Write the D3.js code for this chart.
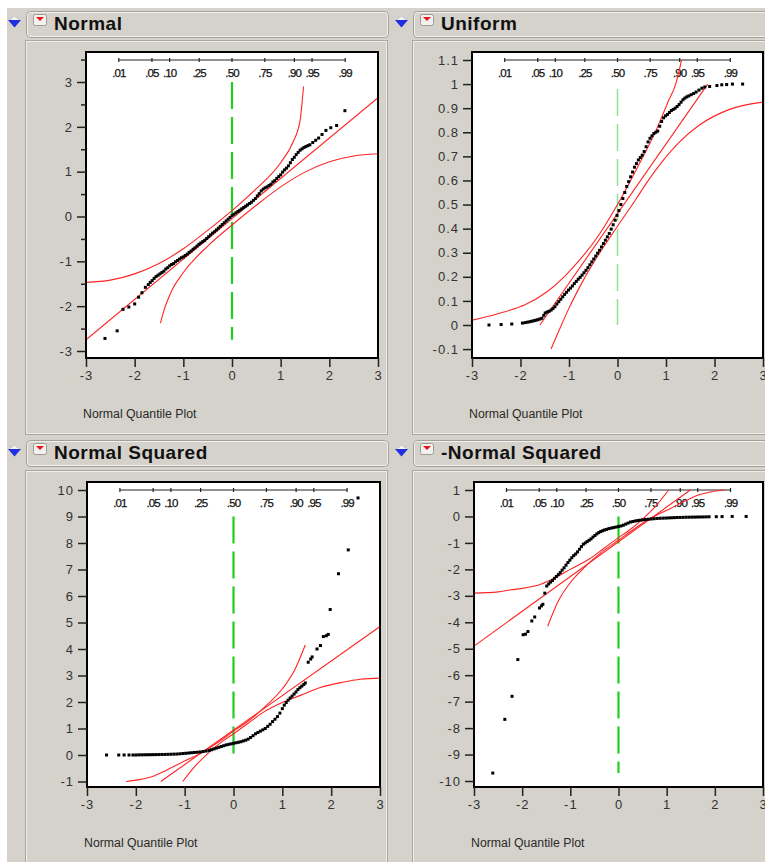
<!DOCTYPE html>
<html>
<head>
<meta charset="utf-8">
<script src="https://cdn.jsdelivr.net/npm/d3@7"></script>
<style>
  body { margin: 0; background: #fff; }
  text { font-family: "Liberation Sans", Arial, sans-serif; }
</style>
</head>
<body>
<svg id="chart"></svg>
<script>
// Normal quantile plots of four distributions (JMP style)

// shared axis values
const xTicks = [-3, -2, -1, 0, 1, 2, 3];
const probLabels = [".01", ".05", ".10", ".25", ".50", ".75", ".90", ".95", ".99"];
const probQuantiles = [-2.326, -1.645, -1.282, -0.674, 0, 0.674, 1.282, 1.645, 2.326];

// ---- Normal ----
const normalTicks = [-3, -2, -1, 0, 1, 2, 3];
const normalMinor = [-2.5, -1.5, -0.5, 0.5, 1.5, 2.5, 3.5];
const normalPts = [[-2.61,-2.72],[-2.36,-2.55],[-2.24,-2.07],[-2.12,-2.02],[-2.0,-1.95],[-1.92,-1.8],[-1.85,-1.7],
  [-1.78,-1.58],[-1.72,-1.52],[-1.68,-1.47],[-1.64,-1.43],[-1.6,-1.38],[-1.56,-1.34],[-1.52,-1.31],[-1.48,-1.28],
  [-1.44,-1.25],[-1.4,-1.22],[-1.36,-1.17],[-1.32,-1.14],[-1.28,-1.1],[-1.24,-1.07],[-1.2,-1.05],[-1.16,-1.01],
  [-1.12,-0.98],[-1.08,-0.95],[-1.04,-0.92],[-1.0,-0.9],[-0.96,-0.87],[-0.92,-0.84],[-0.88,-0.8],[-0.84,-0.77],
  [-0.8,-0.73],[-0.76,-0.7],[-0.72,-0.66],[-0.68,-0.62],[-0.64,-0.59],[-0.6,-0.56],[-0.56,-0.53],[-0.52,-0.49],
  [-0.48,-0.45],[-0.44,-0.41],[-0.4,-0.37],[-0.36,-0.34],[-0.32,-0.3],[-0.28,-0.26],[-0.24,-0.22],[-0.2,-0.18],
  [-0.16,-0.14],[-0.12,-0.1],[-0.08,-0.06],[-0.04,-0.02],[0,0.02],[0.04,0.05],[0.08,0.08],[0.12,0.11],
  [0.16,0.14],[0.2,0.17],[0.24,0.2],[0.28,0.23],[0.32,0.26],[0.36,0.29],[0.4,0.32],[0.44,0.36],[0.48,0.4],
  [0.52,0.46],[0.56,0.51],[0.6,0.57],[0.64,0.61],[0.68,0.64],[0.72,0.66],[0.76,0.69],[0.8,0.72],[0.84,0.77],
  [0.88,0.8],[0.92,0.85],[0.96,0.89],[1.0,0.93],[1.04,0.99],[1.08,1.04],[1.12,1.08],[1.16,1.13],[1.2,1.2],
  [1.24,1.27],[1.28,1.32],[1.32,1.38],[1.36,1.43],[1.4,1.48],[1.44,1.51],[1.48,1.54],[1.52,1.56],[1.56,1.58],
  [1.6,1.6],[1.66,1.65],[1.72,1.7],[1.78,1.75],[1.85,1.83],[1.93,1.92],[2.03,1.98],[2.15,2.03],[2.32,2.36]];
const normalFit = [[-3,-2.75],[3,2.65]];
const normalUpper = [[-3,-1.47],[-2.5,-1.42],[-2,-1.28],[-1.5,-1.05],[-1,-0.72],[-0.5,-0.31],[0,0.13],
  [0.5,0.62],[1,1.2],[1.25,1.65],[1.4,2.15],[1.47,2.9]];
const normalLower = [[-1.47,-2.38],[-1.4,-2.1],[-1.25,-1.68],[-1,-1.25],[-0.5,-0.66],[0,-0.19],[0.5,0.25],
  [1,0.66],[1.5,0.99],[2,1.22],[2.5,1.35],[3,1.4]];
const normalGreen = [-2.75, 3];

// ---- Uniform ----
const uniformTicks = [-0.1, 0, 0.1, 0.2, 0.3, 0.4, 0.5, 0.6, 0.7, 0.8, 0.9, 1, 1.1];
const uniformPts = [[-2.65,0],[-2.4,0.002],[-2.18,0.004],[-1.96,0.008],[-1.9,0.01],[-1.85,0.012],[-1.8,0.014],
  [-1.76,0.016],[-1.72,0.018],[-1.68,0.02],[-1.64,0.022],[-1.6,0.025],[-1.56,0.028],[-1.52,0.04],[-1.49,0.05],
  [-1.45,0.054],[-1.41,0.057],[-1.37,0.062],[-1.33,0.068],[-1.29,0.076],[-1.25,0.087],[-1.21,0.097],
  [-1.17,0.107],[-1.13,0.117],[-1.09,0.127],[-1.05,0.136],[-1.01,0.145],[-0.97,0.153],[-0.93,0.162],
  [-0.89,0.172],[-0.85,0.181],[-0.81,0.19],[-0.77,0.198],[-0.73,0.207],[-0.69,0.217],[-0.65,0.227],
  [-0.61,0.238],[-0.57,0.25],[-0.53,0.262],[-0.49,0.274],[-0.45,0.286],[-0.41,0.298],[-0.37,0.31],
  [-0.33,0.324],[-0.29,0.338],[-0.25,0.352],[-0.21,0.366],[-0.17,0.38],[-0.13,0.398],[-0.09,0.416],
  [-0.05,0.435],[-0.01,0.455],[0.03,0.475],[0.07,0.5],[0.11,0.525],[0.15,0.55],[0.19,0.575],[0.23,0.595],
  [0.27,0.615],[0.31,0.635],[0.35,0.655],[0.39,0.67],[0.43,0.685],[0.47,0.695],[0.51,0.705],[0.55,0.72],
  [0.59,0.74],[0.63,0.76],[0.67,0.775],[0.71,0.785],[0.75,0.795],[0.79,0.8],[0.83,0.805],[0.87,0.825],
  [0.91,0.845],[0.95,0.86],[0.99,0.868],[1.03,0.874],[1.07,0.882],[1.11,0.89],[1.15,0.895],[1.19,0.9],
  [1.23,0.907],[1.27,0.915],[1.31,0.925],[1.35,0.935],[1.39,0.942],[1.43,0.947],[1.47,0.951],[1.52,0.956],
  [1.57,0.961],[1.62,0.967],[1.68,0.975],[1.74,0.983],[1.8,0.988],[1.9,0.99],[2.05,0.994],[2.15,0.997],
  [2.25,0.998],[2.37,1.0],[2.58,1.0]];
const uniformFit = [[-1.6,0],[1.86,1.0]];
const uniformUpper = [[-3,0.02],[-2.5,0.045],[-2.16,0.065],[-1.92,0.083],[-1.46,0.137],[-1.1,0.2],[-0.78,0.27],
  [-0.43,0.36],[0,0.5],[0.4,0.65],[0.8,0.81],[1.05,0.93],[1.2,1.0],[1.32,1.1]];
const uniformLower = [[-1.37,-0.1],[-1.2,-0.02],[-1.0,0.07],[-0.72,0.18],[-0.43,0.28],[0,0.41],[0.39,0.525],
  [0.6,0.59],[0.93,0.68],[1.28,0.76],[1.69,0.83],[2.31,0.895],[3,0.925]];
const uniformGreen = [0, 0.98];

// ---- Normal Squared ----
const normSqTicks = [-1, 0, 1, 2, 3, 4, 5, 6, 7, 8, 9, 10];
const normSqPts = [[-2.6,0],[-2.35,0],[-2.24,0],[-2.14,0],[-2.06,0],[-2.0,0],[-1.94,0.005],[-1.88,0.007],
  [-1.82,0.008],[-1.76,0.01],[-1.7,0.011],[-1.64,0.013],[-1.58,0.015],[-1.52,0.017],[-1.46,0.02],[-1.4,0.022],
  [-1.34,0.025],[-1.28,0.028],[-1.22,0.032],[-1.16,0.036],[-1.1,0.045],[-1.04,0.055],[-0.98,0.065],
  [-0.92,0.075],[-0.86,0.085],[-0.8,0.095],[-0.74,0.105],[-0.68,0.115],[-0.62,0.13],[-0.56,0.15],[-0.5,0.17],
  [-0.45,0.2],[-0.4,0.23],[-0.35,0.26],[-0.3,0.29],[-0.25,0.32],[-0.2,0.35],[-0.15,0.38],[-0.1,0.4],
  [-0.05,0.42],[0,0.44],[0.05,0.46],[0.1,0.48],[0.15,0.5],[0.2,0.53],[0.25,0.56],[0.3,0.6],[0.35,0.66],
  [0.4,0.73],[0.45,0.8],[0.5,0.85],[0.55,0.9],[0.6,0.95],[0.65,1.0],[0.7,1.08],[0.75,1.16],[0.8,1.26],
  [0.85,1.35],[0.9,1.45],[0.95,1.58],[1.0,1.75],[1.04,1.88],[1.08,1.98],[1.12,2.07],[1.16,2.15],[1.2,2.22],
  [1.24,2.3],[1.28,2.38],[1.32,2.47],[1.36,2.54],[1.4,2.6],[1.44,2.66],[1.47,2.72],[1.53,3.5],[1.58,3.62],
  [1.61,3.7],[1.71,4.0],[1.78,4.13],[1.84,4.47],[1.9,4.5],[1.94,4.55],[1.98,5.49],[2.15,6.84],[2.35,7.74],
  [2.55,9.7]];
const normSqFit = [[-1.49,-1.0],[3,4.85]];
const normSqUpper = [[-2.2,-1.0],[-1.9,-0.92],[-1.69,-0.83],[-1.4,-0.6],[-1.08,-0.3],[-0.67,0.07],[-0.3,0.5],
  [0,0.9],[0.35,1.35],[0.69,1.9],[1.0,2.5],[1.25,3.2],[1.47,4.15]];
const normSqLower = [[-1.04,-1.0],[-0.8,-0.45],[-0.5,0.1],[-0.2,0.55],[0,0.8],[0.3,1.2],[0.6,1.6],[1.02,2.0],
  [1.37,2.25],[1.78,2.55],[2.22,2.74],[2.6,2.86],[3,2.9]];
const normSqGreen = [0, 9];

// ---- -Normal Squared ----
const negSqTicks = [-10, -9, -8, -7, -6, -5, -4, -3, -2, -1, 0, 1];
const negSqPts = [[-2.61,-9.7],[-2.36,-7.67],[-2.21,-6.8],[-2.09,-5.41],[-1.98,-4.47],[-1.93,-4.45],[-1.88,-4.35],
  [-1.8,-3.95],[-1.74,-3.8],[-1.64,-3.46],[-1.6,-3.38],[-1.57,-3.32],[-1.53,-2.9],[-1.49,-2.63],[-1.45,-2.55],
  [-1.41,-2.48],[-1.37,-2.42],[-1.33,-2.34],[-1.29,-2.27],[-1.25,-2.2],[-1.21,-2.12],[-1.17,-2.03],
  [-1.13,-1.94],[-1.09,-1.84],[-1.05,-1.74],[-1.01,-1.65],[-0.97,-1.56],[-0.93,-1.48],[-0.89,-1.42],
  [-0.85,-1.34],[-0.81,-1.24],[-0.77,-1.14],[-0.73,-1.05],[-0.69,-1.0],[-0.65,-0.95],[-0.61,-0.9],
  [-0.57,-0.85],[-0.53,-0.78],[-0.49,-0.72],[-0.45,-0.66],[-0.41,-0.61],[-0.37,-0.57],[-0.33,-0.54],
  [-0.29,-0.51],[-0.25,-0.49],[-0.2,-0.46],[-0.15,-0.44],[-0.1,-0.42],[-0.05,-0.4],[0,-0.38],[0.05,-0.36],
  [0.1,-0.33],[0.15,-0.29],[0.2,-0.25],[0.25,-0.21],[0.3,-0.19],[0.35,-0.17],[0.4,-0.155],[0.45,-0.14],
  [0.5,-0.13],[0.56,-0.115],[0.62,-0.105],[0.68,-0.095],[0.74,-0.085],[0.8,-0.075],[0.86,-0.07],[0.92,-0.065],
  [0.98,-0.06],[1.04,-0.055],[1.1,-0.05],[1.16,-0.045],[1.22,-0.04],[1.28,-0.037],[1.34,-0.034],[1.4,-0.03],
  [1.46,-0.028],[1.52,-0.026],[1.58,-0.024],[1.64,-0.022],[1.7,-0.02],[1.76,-0.018],[1.82,-0.015],
  [1.88,-0.012],[2.03,-0.008],[2.15,-0.005],[2.36,0],[2.65,0]];
const negSqFit = [[-3,-4.9],[1.49,1.0]];
const negSqUpper = [[-3,-2.9],[-2.5,-2.85],[-2.25,-2.78],[-2.0,-2.72],[-1.6,-2.55],[-1.3,-2.3],[-1.0,-2.0],
  [-0.6,-1.6],[-0.3,-1.2],[0,-0.8],[0.2,-0.55],[0.5,-0.1],[0.8,0.45],[1.04,1.0]];
const negSqLower = [[-1.47,-4.15],[-1.25,-3.2],[-1.0,-2.5],[-0.69,-1.9],[-0.35,-1.35],[0,-0.9],[0.3,-0.5],
  [0.67,-0.07],[1.08,0.3],[1.4,0.6],[1.69,0.83],[1.9,0.92],[2.2,1.0]];
const negSqGreen = [-9.7, 0];

// page layout for the four report boxes
const panels = [
  {title: "Normal", hx: 26, hy: 11, cy: 40, ch: 394, x0: 86, x1: 378, top: 52, bottom: 358,
   yRef: [-3, 3], yPx: [351, 82], ticks: normalTicks, minor: normalMinor, pts: normalPts,
   fit: normalFit, upper: normalUpper, lower: normalLower, green: normalGreen, gcol: "#1fcf1f"},
  {title: "Uniform", hx: 413, hy: 11, cy: 40, ch: 394, x0: 472, x1: 763, top: 52, bottom: 358,
   yRef: [0, 1.1], yPx: [325, 60], ticks: uniformTicks, minor: [], pts: uniformPts,
   fit: uniformFit, upper: uniformUpper, lower: uniformLower, green: uniformGreen, gcol: "#8fe08f"},
  {title: "Normal Squared", hx: 26, hy: 440, cy: 470, ch: 400, x0: 87, x1: 380, top: 482, bottom: 787,
   yRef: [0, 10], yPx: [755, 490], ticks: normSqTicks, minor: [], pts: normSqPts,
   fit: normSqFit, upper: normSqUpper, lower: normSqLower, green: normSqGreen, gcol: "#1fcf1f"},
  {title: "-Normal Squared", hx: 413, hy: 440, cy: 470, ch: 400, x0: 474, x1: 763, top: 482, bottom: 787,
   yRef: [-10, 1], yPx: [781, 490], ticks: negSqTicks, minor: [], pts: negSqPts,
   fit: negSqFit, upper: negSqUpper, lower: negSqLower, green: negSqGreen, gcol: "#1fcf1f"}
];

const W = 765, H = 862;
const tickFont = "'DejaVu Sans', Verdana, sans-serif";
const svg = d3.select("#chart").attr("width", W).attr("height", H);

// window background
svg.append("rect").attr("width", W).attr("height", H).attr("fill", "#fff");
svg.append("rect").attr("x", 7).attr("y", 8).attr("width", W).attr("height", H).attr("fill", "#d5d2cb");

panels.forEach((p, i) => {
  const g = svg.append("g");
  const boxX = p.hx - 1;

  // outline box
  g.append("rect").attr("x", boxX + 0.5).attr("y", p.cy + 0.5).attr("width", 362).attr("height", p.ch)
    .attr("fill", "none").attr("stroke", "#a9a69f");
  g.append("rect").attr("x", boxX + 1.5).attr("y", p.cy + 1.5).attr("width", 360).attr("height", p.ch - 2)
    .attr("fill", "none").attr("stroke", "#efede9");

  // header bar
  g.append("rect").attr("x", p.hx + 0.5).attr("y", p.hy + 0.5).attr("width", 362).attr("height", 26)
    .attr("rx", 4).attr("fill", "#d5d2cb").attr("stroke", "#a3a09a");
  g.append("rect").attr("x", p.hx + 1.5).attr("y", p.hy + 1.5).attr("width", 360).attr("height", 24)
    .attr("rx", 3).attr("fill", "none").attr("stroke", "#f2f0ec");

  // blue disclosure triangle
  const bx = p.hx - 18, by = p.hy + 7;
  g.append("path").attr("d", `M${bx + 6.5},${by - 2} l5,4 l-5,4 l-5,-4 z`).attr("fill", "#f4f4f4")
    .attr("stroke", "#b0b0b0").attr("stroke-width", 0.6);
  g.append("path").attr("d", `M${bx},${by + 2} h13 l-6.5,7.5 z`).attr("fill", "#1f2ee0");

  // red popup icon
  const rx = p.hx + 7, ry = p.hy + 3;
  g.append("rect").attr("x", rx + 0.5).attr("y", ry + 0.5).attr("width", 13).attr("height", 11).attr("rx", 2)
    .attr("fill", "#f3f1ed").attr("stroke", "#9d9a94");
  g.append("path").attr("d", `M${rx + 3},${ry + 3} h8 l-4,4 z`).attr("fill", "#e8141c");

  g.append("text").attr("x", p.hx + 28).attr("y", p.hy + 19).attr("font-size", 19).attr("font-weight", "bold")
    .attr("letter-spacing", 0.5).attr("fill", "#111").text(p.title);

  // scales
  const x = d3.scaleLinear().domain([-3, 3]).range([p.x0, p.x1]);
  const y = d3.scaleLinear().domain(p.yRef).range(p.yPx);

  // plot frame
  g.append("rect").attr("x", p.x0).attr("y", p.top).attr("width", p.x1 - p.x0).attr("height", p.bottom - p.top)
    .attr("fill", "#fff");

  const clipId = "clip" + i;
  svg.append("clipPath").attr("id", clipId).append("rect")
    .attr("x", p.x0).attr("y", p.top).attr("width", p.x1 - p.x0).attr("height", p.bottom - p.top);
  const plot = g.append("g").attr("clip-path", `url(#${clipId})`);

  // probability scale along the top
  const probY = p.top + 8;
  plot.append("line").attr("x1", x(probQuantiles[0])).attr("x2", x(probQuantiles[8]))
    .attr("y1", probY).attr("y2", probY).attr("stroke", "#222").attr("stroke-width", 1);
  plot.selectAll(".ptick").data(probQuantiles).enter().append("line")
    .attr("x1", d => x(d)).attr("x2", d => x(d)).attr("y1", probY - 2).attr("y2", probY + 2)
    .attr("stroke", "#222").attr("stroke-width", 1.2);
  plot.selectAll(".plab").data(probQuantiles).enter().append("text")
    .attr("x", d => x(d)).attr("y", probY + 17).attr("text-anchor", "middle")
    .attr("font-size", 11.5).attr("fill", "#111").attr("letter-spacing", -0.9)
    .attr("stroke", "#111").attr("stroke-width", 0.25)
    .text((d, k) => probLabels[k]);

  // green median line
  plot.append("line").attr("x1", x(0)).attr("x2", x(0))
    .attr("y1", y(p.green[1])).attr("y2", y(p.green[0]))
    .attr("stroke", p.gcol).attr("stroke-width", i === 1 ? 1.5 : 2.2).attr("stroke-dasharray", "27,8");

  // red fit line and confidence curves
  const line = d3.line().x(d => x(d[0])).y(d => y(d[1])).curve(d3.curveMonotoneX);
  [p.fit, p.upper, p.lower].forEach(s => {
    plot.append("path").datum(s).attr("d", line).attr("fill", "none")
      .attr("stroke", "#ff2424").attr("stroke-width", 1.1);
  });

  // data points
  plot.selectAll(".pt").data(p.pts).enter().append("rect")
    .attr("x", d => x(d[0]) - 1.5).attr("y", d => y(d[1]) - 1.5)
    .attr("width", 3).attr("height", 3).attr("fill", "#000");

  g.append("rect").attr("x", p.x0).attr("y", p.top).attr("width", p.x1 - p.x0).attr("height", p.bottom - p.top)
    .attr("fill", "none").attr("stroke", "#000").attr("stroke-width", 2);

  // y axis
  const yAxis = g.append("g").attr("transform", `translate(${p.x0},0)`)
    .call(d3.axisLeft(y).tickValues(p.ticks).tickSize(9).tickPadding(4).tickFormat(d => String(d)));
  yAxis.select(".domain").remove();
  yAxis.selectAll("text").attr("font-size", 13).attr("fill", "#333").attr("letter-spacing", 1)
    .attr("font-family", tickFont);
  yAxis.selectAll("line").attr("stroke", "#222").attr("stroke-width", 1.5);
  if (p.minor.length) {
    const ym = g.append("g").attr("transform", `translate(${p.x0},0)`)
      .call(d3.axisLeft(y).tickValues(p.minor).tickSize(5).tickFormat(""));
    ym.select(".domain").remove();
    ym.selectAll("line").attr("stroke", "#222").attr("stroke-width", 1.5);
  }

  // x axis
  const xAxis = g.append("g").attr("transform", `translate(0,${p.bottom})`)
    .call(d3.axisBottom(x).tickValues(xTicks).tickSize(9).tickPadding(4).tickFormat(d => String(d)));
  xAxis.select(".domain").remove();
  xAxis.selectAll("text").attr("font-size", 13).attr("fill", "#333").attr("letter-spacing", 1)
    .attr("font-family", tickFont);
  xAxis.selectAll("line").attr("stroke", "#222").attr("stroke-width", 1.5);

  g.append("text").attr("x", p.x0 - 3).attr("y", p.bottom + 60).attr("font-size", 12.3)
    .attr("font-family", tickFont).attr("fill", "#2a2a2a").text("Normal Quantile Plot");
});
</script>
</body>
</html>
